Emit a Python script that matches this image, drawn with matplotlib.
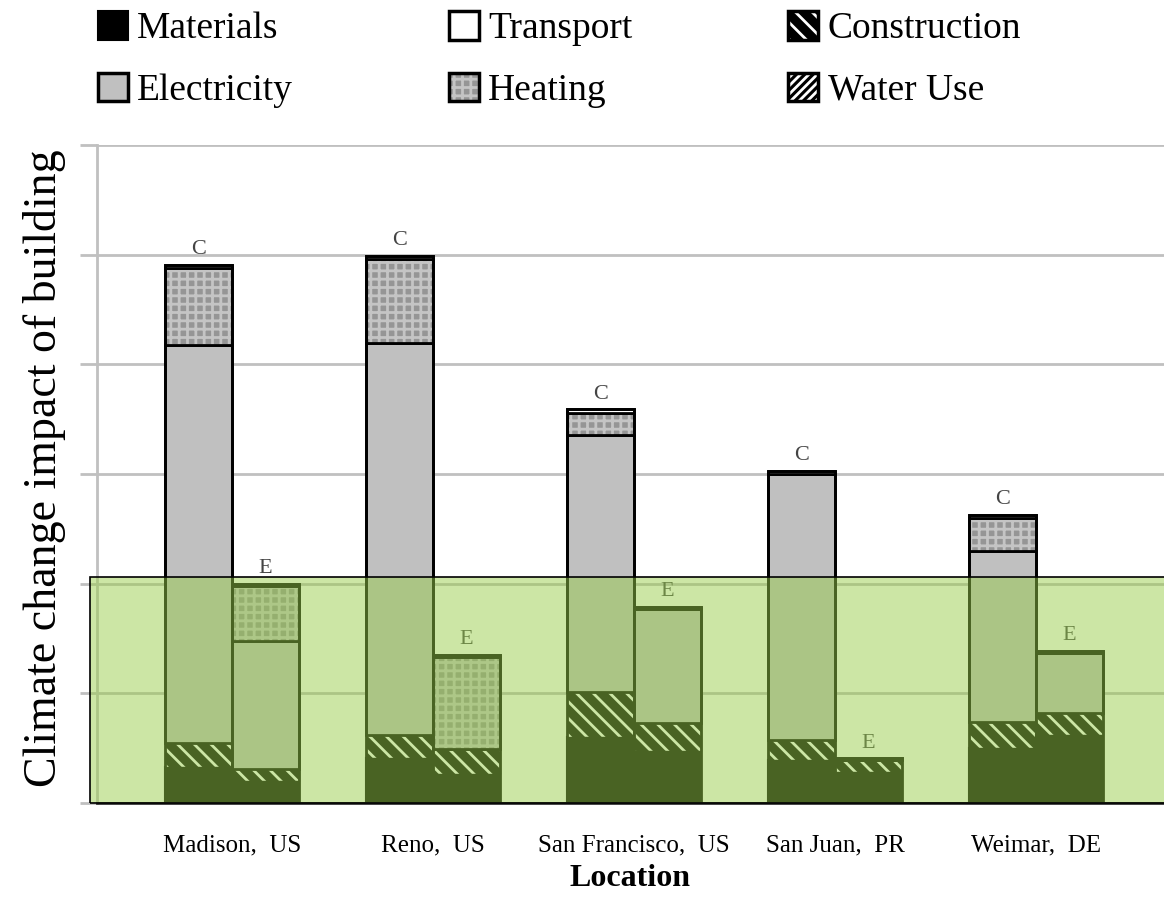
import matplotlib
matplotlib.use("Agg")
import matplotlib.pyplot as plt
from matplotlib.patches import Patch, Rectangle
from matplotlib.transforms import blended_transform_factory
import numpy as np

plt.rcParams['font.family'] = ['Liberation Serif', 'DejaVu Serif']
plt.rcParams['hatch.linewidth'] = 2.0

locations = ['Madison,  US', 'Reno,  US', 'San Francisco,  US', 'San Juan,  PR', 'Weimar,  DE']

# C bars
c_materials = [0.33, 0.41, 0.60, 0.39, 0.50]
c_construction = [0.22, 0.21, 0.41, 0.18, 0.24]
c_electricity = [3.63, 3.57, 2.35, 2.43, 1.56]
c_heating = [0.70, 0.77, 0.20, 0.00, 0.30]
c_transport = [0.03, 0.03, 0.03, 0.03, 0.03]
c_water = [0.0, 0.0, 0.0, 0.0, 0.0]

# E bars
e_materials = [0.20, 0.26, 0.47, 0.28, 0.62]
e_construction = [0.11, 0.23, 0.26, 0.11, 0.20]
e_electricity = [1.17, 0.00, 1.04, 0.00, 0.55]
e_heating = [0.50, 0.84, 0.00, 0.00, 0.00]
e_transport = [0.02, 0.02, 0.02, 0.02, 0.02]
e_water = [0.0, 0.0, 0.0, 0.0, 0.0]

threshold = 2.06

fig = plt.figure(figsize=(11.64, 8.98), dpi=100)
ax = fig.add_axes([97 / 1164, 95 / 898, 1 - 97 / 1164, 658 / 898])

x = np.arange(len(locations))
w = 1 / 3


def draw_stack(xpos, mats, cons, elec, heat, trans, water, tag):
    bottom = np.zeros(len(xpos))
    ax.bar(xpos, mats, w, bottom=bottom, color='black', edgecolor='black', lw=1.5, zorder=2)
    bottom += mats
    # hatched construction, drawn as fill + outline
    ax.bar(xpos, cons, w, bottom=bottom, color='black', edgecolor='white', hatch='\\\\', lw=0, zorder=2)
    ax.bar(xpos, cons, w, bottom=bottom, color='none', edgecolor='black', lw=1.0, zorder=2)
    bottom += cons
    ax.bar(xpos, water, w, bottom=bottom, color='black', edgecolor='white', hatch='//', lw=0, zorder=2)
    bottom += water
    ax.bar(xpos, elec, w, bottom=bottom, color='#c0c0c0', edgecolor='black', lw=2.0, zorder=2)
    bottom += elec
    ax.bar(xpos, heat, w, bottom=bottom, color='#959595', edgecolor='#c4c4c4', hatch='++', lw=0, zorder=2)
    ax.bar(xpos, heat, w, bottom=bottom, color='none', edgecolor='black', lw=2.0, zorder=2)
    bottom += heat
    ax.bar(xpos, trans, w, bottom=bottom, color='white', edgecolor='black', lw=2.0, zorder=2)
    bottom += trans
    # outline of whole bar
    ax.bar(xpos, bottom, w, color='none', edgecolor='black', lw=2.0, zorder=2)
    for xi, top in zip(xpos, bottom):
        ax.text(xi, top + 0.05, tag, ha='center', va='bottom', fontsize=16, color='#444444', zorder=3)


draw_stack(x - w / 2, np.array(c_materials), np.array(c_construction), np.array(c_electricity),
           np.array(c_heating), np.array(c_transport), np.array(c_water), 'C')
draw_stack(x + w / 2, np.array(e_materials), np.array(e_construction), np.array(e_electricity),
           np.array(e_heating), np.array(e_transport), np.array(e_water), 'E')

# green overlay
trans = blended_transform_factory(ax.transAxes, ax.transData)
ax.add_patch(Rectangle((-0.007, 0), 1.1, threshold, transform=trans, clip_on=False,
                       facecolor='#97cc49', alpha=0.49, edgecolor='none', zorder=5))
ax.add_patch(Rectangle((-0.007, 0), 1.1, threshold, transform=trans, clip_on=False,
                       facecolor='none', edgecolor='black', lw=1.2, zorder=6))

ax.set_xlim(-0.672, 4.637)
ax.set_ylim(0, 6)
ax.set_yticks(np.arange(0, 7))
ax.set_yticklabels([])
ax.yaxis.grid(True, color='#c0c0c0', lw=2.0)
ax.set_axisbelow(True)
ax.tick_params(axis='y', length=12, width=2, color='#c0c0c0')
ax.set_xticks(x)
ax.set_xticklabels(locations, fontsize=18)
ax.tick_params(axis='x', length=0, pad=23)
for s in ['top', 'right']:
    ax.spines[s].set_visible(False)
ax.spines['left'].set_color('#c0c0c0')
ax.spines['left'].set_linewidth(2)
ax.spines['bottom'].set_color('#333333')
ax.spines['bottom'].set_linewidth(2)

ax.set_xlabel('Location', fontsize=23, fontweight='bold', labelpad=5)
ax.set_ylabel('Climate change impact of building', fontsize=33)
ax.yaxis.set_label_coords(-0.029, 0.509)

# legend
h_mat = Patch(facecolor='black', edgecolor='black', lw=1.5)
h_trans = Patch(facecolor='white', edgecolor='black', lw=2.5)
h_cons = (Patch(facecolor='black', edgecolor='white', hatch='\\\\', lw=0),
          Patch(facecolor='none', edgecolor='black', lw=2.5))
h_elec = Patch(facecolor='#c0c0c0', edgecolor='black', lw=2.5)
h_heat = (Patch(facecolor='#959595', edgecolor='#c4c4c4', hatch='++', lw=0),
          Patch(facecolor='none', edgecolor='black', lw=2.5))
h_water = (Patch(facecolor='black', edgecolor='white', hatch='////', lw=0),
           Patch(facecolor='none', edgecolor='black', lw=2.5))
handles = [h_mat, h_elec, h_trans, h_heat, h_cons, h_water]
labels = ['Materials', 'Electricity', 'Transport', 'Heating', 'Construction', 'Water Use']
fig.legend(handles, labels, loc='upper left', bbox_to_anchor=(98 / 1164, 1 - 11 / 898),
           ncol=3, frameon=False, fontsize=27, handlelength=0.8, handleheight=0.8,
           handletextpad=0.25, columnspacing=4.15, labelspacing=0.7, borderpad=0,
           borderaxespad=0)

fig.savefig('out.png', dpi=100)
